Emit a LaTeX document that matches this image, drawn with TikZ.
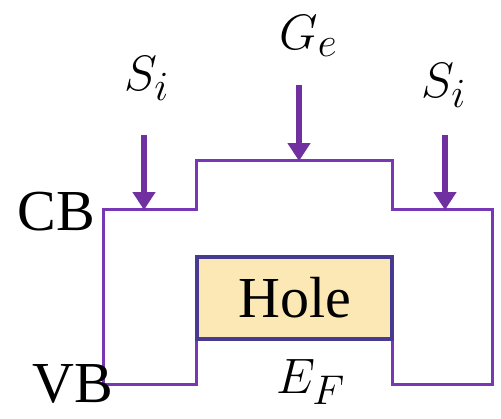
\documentclass[tikz,border=0pt]{standalone}
\usepackage{fontspec}
\setmainfont{Liberation Serif}
\usepackage{amsmath}
\usetikzlibrary{arrows.meta}
\definecolor{bandline}{RGB}{120,55,180}
\definecolor{pumpline}{RGB}{112,48,160}
\definecolor{holeedge}{RGB}{70,58,145}
\definecolor{holefill}{RGB}{252,232,180}
\tikzset{
  band/.style={draw=bandline,line width=1.5pt,line join=miter},
  pump/.style={draw=pumpline,line width=3pt,-{Triangle[width=11pt,length=9pt]}},
  lbl/.style={inner sep=0pt,anchor=base west,font=\fontsize{29}{30}\selectfont},
}
\begin{document}
\begin{tikzpicture}[x=0.5pt,y=-0.5pt]
\useasboundingbox (0,0) rectangle (501,418);
% band edges:
\path[band] (103,209) -- (196,209) -- (196,160) -- (392,160) -- (392,209)
  -- (492,209) -- (492,384) -- (392,384) -- (392,339) -- (196,339)
  -- (196,384) -- (103,384) -- cycle;
% hole region:
\path[draw=holeedge,fill=holefill,line width=2pt] (197,257) rectangle (392,339);
\node[lbl,anchor=base] (hole) at (295,317) {Hole};
% labels:
\node[lbl] (cb) at (17,230) {CB};
\node[lbl] (vb) at (32,402) {VB};
\node[lbl] (si1) at (124,90) {$S_i$};
\node[lbl] (ge) at (279,49) {$G_e$};
\node[lbl] (si2) at (421,97) {$S_i$};
\node[lbl] (ef) at (276,393) {$E_F$};
% arrows:
\coordinate (si1top) at (144,135);
\coordinate (si1tip) at (144,210);
\coordinate (getop) at (299,85);
\coordinate (getip) at (299,161);
\coordinate (si2top) at (445,135);
\coordinate (si2tip) at (445,210);
\draw[pump] (si1top) -- (si1tip);
\draw[pump] (getop) -- (getip);
\draw[pump] (si2top) -- (si2tip);
\end{tikzpicture}
\end{document}
